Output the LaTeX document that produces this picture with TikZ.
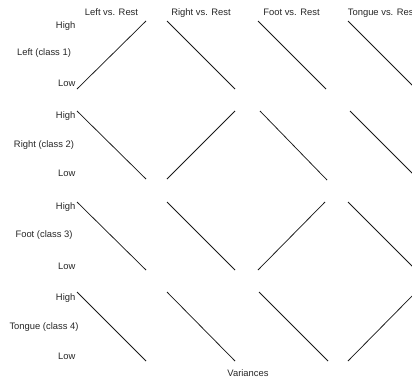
\documentclass[tikz,border=0pt]{standalone}
\usepackage{fontspec}
\setmainfont{Liberation Sans}
\begin{document}
\begin{tikzpicture}[x=1pt,y=-1pt,
  lbl/.style={font=\fontsize{9.4}{11}\selectfont, inner sep=0pt, text=black!85},
  seg/.style={line width=0.75pt, black!90}]
\useasboundingbox (0,0) rectangle (412,380);
\clip (0,0) rectangle (412,380);
% column headers
\node[lbl, anchor=base] (h1) at (111.5,15.5) {Left vs. Rest};
\node[lbl, anchor=base] (h2) at (201,15.5) {Right vs. Rest};
\node[lbl, anchor=base] (h3) at (291.5,15.5) {Foot vs. Rest};
\node[lbl, anchor=base] (h4) at (382,15.5) {Tongue vs. Rest};
% row labels
\node[lbl, anchor=base east] (hi1) at (75.5,28.5) {High};
\node[lbl, anchor=base] (cl1) at (44,55.5) {Left (class 1)};
\node[lbl, anchor=base east] (lo1) at (75.5,86.5) {Low};
\node[lbl, anchor=base east] (hi2) at (75.5,118.5) {High};
\node[lbl, anchor=base] (cl2) at (44,147.5) {Right (class 2)};
\node[lbl, anchor=base east] (lo2) at (75.5,176.5) {Low};
\node[lbl, anchor=base east] (hi3) at (75.5,209.5) {High};
\node[lbl, anchor=base] (cl3) at (44,237.5) {Foot (class 3)};
\node[lbl, anchor=base east] (lo3) at (75.5,269.5) {Low};
\node[lbl, anchor=base east] (hi4) at (75.5,300.5) {High};
\node[lbl, anchor=base] (cl4) at (44,329.5) {Tongue (class 4)};
\node[lbl, anchor=base east] (lo4) at (75.5,359.5) {Low};
\node[lbl, anchor=base] (var) at (248,376.5) {Variances};
% row 1
\draw[seg] (77,89) -- (146,21);
\draw[seg] (167,21) -- (235,89);
\draw[seg] (258,21) -- (326,89);
\draw[seg] (348,21) -- (416,89);
% row 2
\draw[seg] (77,111) -- (146,179);
\draw[seg] (167,179) -- (235,111);
\draw[seg] (260,111) -- (327,180);
\draw[seg] (350,111) -- (418,179);
% row 3
\draw[seg] (77,202) -- (146,270);
\draw[seg] (167,202) -- (235,270);
\draw[seg] (258,270) -- (325,202);
\draw[seg] (348,202) -- (416,270);
% row 4
\draw[seg] (77,292) -- (146,361);
\draw[seg] (167,292) -- (235,361);
\draw[seg] (259,292) -- (328,361);
\draw[seg] (348,361) -- (416,292);
\end{tikzpicture}
\end{document}
